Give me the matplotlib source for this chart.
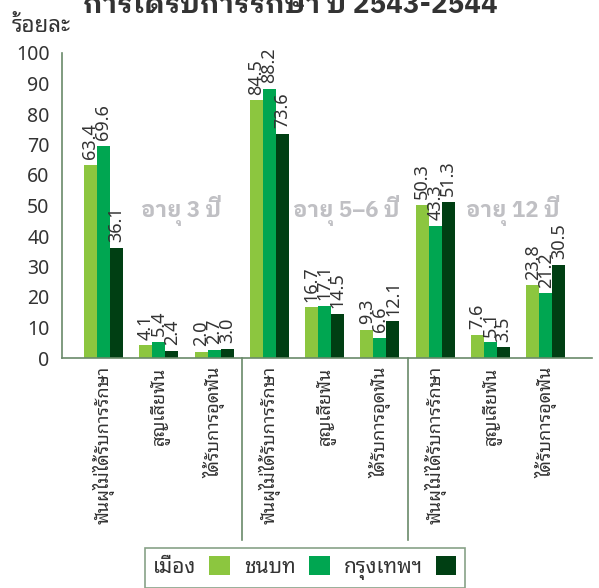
import numpy as np
import matplotlib
matplotlib.use('Agg')
import matplotlib.pyplot as plt
from matplotlib.patches import Patch

plt.rcParams['font.family'] = ['Noto Sans Thai Looped', 'DejaVu Sans']
BOLD_FAMILY = ['IBM Plex Sans Thai Looped', 'DejaVu Sans']

categories = ['ฟันผุไม่ได้รับการรักษา', 'สูญเสียฟัน', 'ได้รับการอุดฟัน'] * 3
age_groups = ['อายุ 3 ปี', 'อายุ 5–6 ปี', 'อายุ 12 ปี']
series_names = ['เมือง', 'ชนบท', 'กรุงเทพฯ']
urban = [63.4, 4.1, 2.0, 84.5, 16.7, 9.3, 50.3, 7.6, 23.8]
rural = [69.6, 5.4, 2.7, 88.2, 17.1, 6.6, 43.3, 5.1, 21.2]
bangkok = [36.1, 2.4, 3.0, 73.6, 14.5, 12.1, 51.3, 3.5, 30.5]
yticks = list(range(0, 101, 10))

COLORS = ['#8CC63F', '#00A651', '#003F13']
AXIS_COLOR = '#6A8A6A'
TEXT_COLOR = '#333333'

fig = plt.figure(figsize=(5.99, 5.88), dpi=100)
ax = fig.add_axes([62 / 599, 1 - 358 / 588, (592 - 62) / 599, 305 / 588])

x = np.arange(len(categories))
width = 0.235
for k, vals in enumerate([urban, rural, bangkok]):
    pos = x + (k - 1) * width
    ax.bar(pos, vals, width=width, color=COLORS[k], label=series_names[k])
    for px, v in zip(pos, vals):
        ax.annotate(f'{v:.1f}', (px, v), xytext=(0, 4), textcoords='offset points',
                    rotation=90, ha='center', va='bottom', fontsize=13, color=TEXT_COLOR)

ax.set_xlim(-0.75, 8.834)
ax.set_ylim(0, 100)
ax.set_yticks(yticks)
ax.set_yticklabels([str(t) for t in yticks], fontsize=14, color=TEXT_COLOR)
ax.tick_params(axis='y', length=0, pad=9)
ax.set_xticks(x)
ax.set_xticklabels(categories, rotation=90, fontsize=13, color=TEXT_COLOR, va='top', ha='center')
ax.tick_params(axis='x', length=0, pad=6)

for side in ['top', 'right']:
    ax.spines[side].set_visible(False)
for side in ['left', 'bottom']:
    ax.spines[side].set_color(AXIS_COLOR)
    ax.spines[side].set_linewidth(1.2)

# separators between age groups
trans = matplotlib.transforms.blended_transform_factory(ax.transData, ax.transAxes)
for sx in [2.5, 5.5]:
    ax.plot([sx, sx], [0, -0.597], transform=trans, color=AXIS_COLOR, lw=1.2, clip_on=False)

# age group labels
for g, name in enumerate(age_groups):
    ax.text(g * 3 + 1.4, 48.5, name, ha='center', va='center', fontsize=16,
            fontweight='bold', color='#C0C0C4', family=BOLD_FAMILY)

fig.text(12 / 599, 1 - 26 / 588, 'ร้อยละ', fontsize=16, color=TEXT_COLOR, va='center', ha='left')
fig.text(290 / 599, 1 - 13 / 588, 'การได้รับการรักษา ปี 2543-2544', fontsize=20,
         fontweight='bold', color=TEXT_COLOR, ha='center', va='baseline', family=BOLD_FAMILY)

handles = [Patch(facecolor=c, edgecolor='none') for c in COLORS]
leg = fig.legend(handles, series_names, loc='upper left', bbox_to_anchor=(145 / 599, 1 - 548 / 588),
                 ncol=3, markerfirst=False, fontsize=15, frameon=True, fancybox=False,
                 handlelength=1.0, handleheight=1.0, columnspacing=0.7, handletextpad=0.6,
                 borderpad=0.4, borderaxespad=0)
leg.get_frame().set_edgecolor(AXIS_COLOR)
leg.get_frame().set_linewidth(1.2)
for t in leg.get_texts():
    t.set_color(TEXT_COLOR)

fig.savefig('out.png', dpi=100)
